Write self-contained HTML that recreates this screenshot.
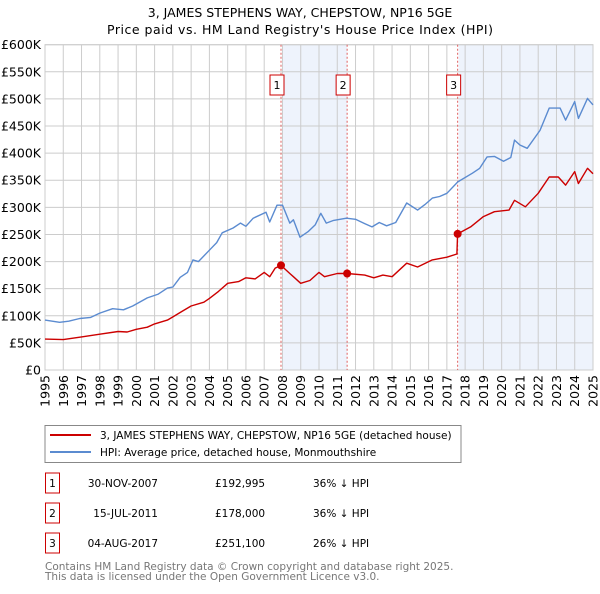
<!DOCTYPE html>
<html><head><meta charset="utf-8"><style>
body{margin:0;background:#fff;font-family:"DejaVu Sans","Liberation Sans",sans-serif;}
svg text{font-family:"DejaVu Sans","Liberation Sans",sans-serif;}
</style></head><body>
<svg id="chart" width="600" height="590" viewBox="0 0 600 590" xmlns="http://www.w3.org/2000/svg">
<text x="300" y="17" text-anchor="middle" font-size="12.5" fill="#000">3, JAMES STEPHENS WAY, CHEPSTOW, NP16 5GE</text>
<text x="300" y="34" text-anchor="middle" font-size="12.5" fill="#000" textLength="386">Price paid vs. HM Land Registry's House Price Index (HPI)</text>
<g id="plot"></g>
<g>
<rect x="45" y="425.5" width="416" height="37" fill="#fff" stroke="#888"/>
<line x1="50" y1="435" x2="91" y2="435" stroke="#cc0000" stroke-width="2"/>
<text x="100" y="439" font-size="10.5">3, JAMES STEPHENS WAY, CHEPSTOW, NP16 5GE (detached house)</text>
<line x1="50" y1="452" x2="91" y2="452" stroke="#5b8bd0" stroke-width="2"/>
<text x="100" y="456" font-size="10.5">HPI: Average price, detached house, Monmouthshire</text>
</g>
<g id="table" font-size="10.5"></g>
<text x="45" y="570" font-size="10.5" fill="#777">Contains HM Land Registry data © Crown copyright and database right 2025.</text>
<text x="45" y="580" font-size="10.5" fill="#777">This data is licensed under the Open Government Licence v3.0.</text>
</svg>
<script>
const hpiYears=[1995,1995.8,1996.3,1996.9,1997.5,1998,1998.7,1999.3,1999.8,2000.6,2001.2,2001.7,2002,2002.4,2002.8,2003.1,2003.4,2004,2004.4,2004.7,2005.3,2005.7,2006,2006.4,2007.1,2007.3,2007.7,2008,2008.4,2008.6,2008.96,2009.4,2009.8,2010.1,2010.4,2010.8,2011.5,2012,2012.5,2012.9,2013.3,2013.7,2014.2,2014.8,2015.4,2015.8,2016.2,2016.6,2017,2017.6,2018.4,2018.8,2019.2,2019.6,2020.1,2020.5,2020.7,2021,2021.4,2022.1,2022.6,2023.2,2023.5,2024,2024.2,2024.7,2025];
const hpiValues=[92,88,90,95,97,105,113,111,118,133,140,151,153,171,180,203,200,221,235,253,262,271,265,280,291,273,304,304,271,277,245,255,268,289,271,276,280,278,270,264,272,266,272,308,295,305,317,320,326,347,363,372,393,394,385,392,424,415,409,442,483,483,461,495,464,501,489];
const ppYears=[1995,1996,1997,1998,1999,1999.5,2000,2000.6,2001,2001.7,2002,2002.5,2003,2003.7,2004,2004.5,2005,2005.6,2006,2006.5,2007,2007.3,2007.6,2007.92,2008.4,2008.6,2009,2009.5,2010,2010.3,2011,2011.54,2012.5,2013,2013.5,2014,2014.8,2015.4,2016.2,2017,2017.55,2017.59,2018.3,2019,2019.6,2020.4,2020.7,2021.3,2022,2022.6,2023.1,2023.5,2024,2024.2,2024.7,2025];
const ppValues=[57,56,61,66,71,70,75,79,85,92,98,108,118,125,132,145,160,163,170,168,180,172,188,193,178,172,160,165,180,172,178,178,175,170,175,172,197,190,203,208,214,251,264,283,292,295,313,301,326,356,356,341,366,344,372,362];
const saleYears=[2007.92,2011.54,2017.59];
const saleValues=[192.995,178,251.1];
const saleLabels=["1","2","3"];
const saleDates=["30-NOV-2007","15-JUL-2011","04-AUG-2017"];
const salePrices=["£192,995","£178,000","£251,100"];
const saleDiffs=["36% ↓ HPI","36% ↓ HPI","26% ↓ HPI"];
const yTicks=[0,50,100,150,200,250,300,350,400,450,500,550,600];
const yTickLabels=["£0","£50K","£100K","£150K","£200K","£250K","£300K","£350K","£400K","£450K","£500K","£550K","£600K"];
const xTicks=[1995,1996,1997,1998,1999,2000,2001,2002,2003,2004,2005,2006,2007,2008,2009,2010,2011,2012,2013,2014,2015,2016,2017,2018,2019,2020,2021,2022,2023,2024,2025];

const NS="http://www.w3.org/2000/svg";
const X0=45,X1=593,Y0=370,Y1=44.7;
const xs=y=>X0+(y-1995)/30*(X1-X0);
const ys=v=>Y0-v/600*(Y0-Y1);
const plot=document.getElementById('plot');
function mk(tag,attrs,parent){const e=document.createElementNS(NS,tag);for(const k in attrs)e.setAttribute(k,attrs[k]);(parent||plot).appendChild(e);return e;}

for(let i=0;i<saleYears.length;i+=2){
  const x1=xs(saleYears[i])+1;const x2=i+1<saleYears.length?xs(saleYears[i+1]):X1;
  const r=mk('rect',{x:x1,y:Y1,width:x2-x1,height:Y0-Y1,fill:'#eef3fc'});
  
  
}
xTicks.forEach((t,i)=>{
  const l=mk('line',{x1:xs(t),x2:xs(t),y1:Y1,y2:Y0,stroke:'#cccccc','stroke-width':1});
  
  
  const x=xs(t),tx=mk('text',{x:0,y:0,'font-size':12.5,'text-anchor':'end',transform:`translate(${x+4.5},${Y0+5}) rotate(-90)`});
  tx.textContent=t;
  
  
});
yTicks.forEach((t,i)=>{
  const l=mk('line',{x1:X0,x2:X1,y1:ys(t),y2:ys(t),stroke:'#cccccc','stroke-width':1});
  
  
  const tx=mk('text',{x:41,y:ys(t)+4.5,'font-size':12.5,'text-anchor':'end'});
  tx.textContent=yTickLabels[i];
  
  
});
const fr=mk('rect',{x:X0,y:Y1,width:X1-X0,height:Y0-Y1,fill:'none',stroke:'#cccccc'});


saleYears.forEach((s,i)=>{
  const x=xs(s);
  const l=mk('line',{x1:x,x2:x,y1:Y1,y2:Y0,stroke:'#e06060','stroke-width':1,'stroke-dasharray':'2,2'});
  
  
  const b=mk('rect',{x:x-11,y:75,width:14,height:20,fill:'#fff',stroke:'#cc0000'});
  
  
  const t=mk('text',{x:x-4,y:89,'font-size':11,'text-anchor':'middle'});
  t.textContent=saleLabels[i];
  
  
});
function line(ya,va,color,name){
  const d=ya.map((y,i)=>(i?'L':'M')+xs(y).toFixed(1)+','+ys(va[i]).toFixed(1)).join('');
  const p=mk('path',{d,fill:'none',stroke:color,'stroke-width':1.4,'stroke-linejoin':'round'});
  
  
}
line(hpiYears,hpiValues,'#5b8bd0','hpi-line');
line(ppYears,ppValues,'#cc0000','price-paid-line');
saleYears.forEach((s,i)=>{
  const c=mk('circle',{cx:xs(s),cy:ys(saleValues[i]),r:4,fill:'#cc0000'});
  
  
});
const tbl=document.getElementById('table');
const rowY=[483,513,543];
saleLabels.forEach((lab,i)=>{
  const y=rowY[i];
  const b=mk('rect',{x:45.5,y:y-10,width:14,height:20,fill:'#fff',stroke:'#cc0000'},tbl);
  
  
  const t1=mk('text',{x:52.5,y:y+4,'text-anchor':'middle'},tbl);t1.textContent=lab;
  
  
  const t2=mk('text',{x:158,y:y+4,'text-anchor':'end'},tbl);t2.textContent=saleDates[i];
  
  
  const t3=mk('text',{x:215,y:y+4},tbl);t3.textContent=salePrices[i];
  
  
  const t4=mk('text',{x:313,y:y+4},tbl);t4.textContent=saleDiffs[i];
  
  
});
</script>
</body></html>
